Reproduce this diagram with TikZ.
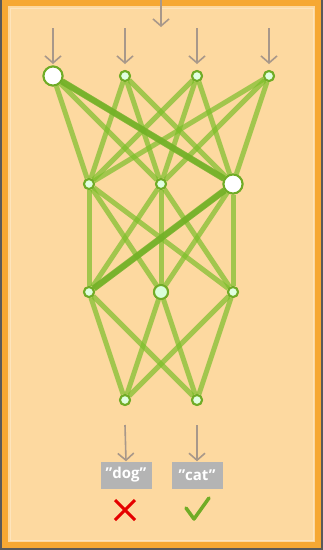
\documentclass[tikz,border=0pt]{standalone}
\usepackage{fontspec}
\setmainfont{Open Sans}
\usetikzlibrary{arrows.meta}
\definecolor{bg}{HTML}{FDD9A0}
\definecolor{frame}{HTML}{F6A833}
\definecolor{edge}{HTML}{7CBF2A}
\definecolor{arr}{HTML}{A8988A}
\definecolor{lab}{HTML}{B4B4B4}
\tikzset{
  neuron/.style={circle,draw=edge!90!black,line width=2pt,fill=white!70!green!40,inner sep=0pt,minimum size=10pt},
  bigneuron/.style={neuron,minimum size=19pt,fill=white},
  midneuron/.style={neuron,minimum size=14pt,fill=white!85!green},
  link/.style={draw=edge,line width=5pt,opacity=0.7},
  hot/.style={draw=edge!92!black,line width=6.5pt,opacity=0.85},
  inarrow/.style={draw=arr,line width=1.6pt,-{Straight Barb[length=7pt,width=16pt]}},
  labelbox/.style={fill=lab,text=white,font=\bfseries\fontsize{15}{15}\selectfont,inner xsep=3pt,minimum height=27pt,minimum width=51pt}
}
\begin{document}
\begin{tikzpicture}[x=1pt,y=-1pt]
\useasboundingbox (0,0) rectangle (323,550);
\fill[gray!70!black] (0,0) rectangle (323,550);
\fill[frame] (2,0) rectangle (321,548);
\fill[bg] (8,6) rectangle (315,542);
\draw[white,opacity=0.3,line width=0.8pt] (10,8) rectangle (313,540);
% nodes
\node[bigneuron] (a1) at (53,76) {};
\node[neuron] (a2) at (125,76) {};
\node[neuron] (a3) at (197,76) {};
\node[neuron] (a4) at (269,76) {};
\node[neuron] (b1) at (89,184) {};
\node[neuron] (b2) at (161,184) {};
\node[bigneuron] (b3) at (233,184) {};
\node[neuron] (c1) at (89,292) {};
\node[midneuron] (c2) at (161,292) {};
\node[neuron] (c3) at (233,292) {};
\node[neuron] (d1) at (125,400) {};
\node[neuron] (d2) at (197,400) {};
% edges
\foreach \s in {a1,a2,a3,a4}{\foreach \t in {b1,b2,b3}{\path[link] (\s) -- (\t);}}
\foreach \s in {b1,b2,b3}{\foreach \t in {c1,c2,c3}{\path[link] (\s) -- (\t);}}
\foreach \s in {c1,c2,c3}{\foreach \t in {d1,d2}{\path[link] (\s) -- (\t);}}
\path[hot] (a1) -- (b3);
\path[hot] (b3) -- (c1);
% redraw nodes on top
\node[bigneuron] at (a1) {};
\node[neuron] at (a2) {};
\node[neuron] at (a3) {};
\node[neuron] at (a4) {};
\node[neuron] at (b1) {};
\node[neuron] at (b2) {};
\node[bigneuron] at (b3) {};
\node[neuron] at (c1) {};
\node[midneuron] at (c2) {};
\node[neuron] at (c3) {};
\node[neuron] at (d1) {};
\node[neuron] at (d2) {};
% arrows
\coordinate (top) at (161,0);
\coordinate (topend) at (161,27);
\draw[inarrow] (top) -- (topend);
\foreach \n/\x in {a1/53,a2/125,a3/197,a4/269}{
  \coordinate (s\n) at (\x,28);
  \coordinate (e\n) at (\x,64);
  \draw[inarrow] (s\n) -- (e\n);
}
\node[labelbox] (dog) at (126,475) {''dog''};
\node[labelbox] (cat) at (197,475) {''cat''};
\coordinate (sd) at (125,425);
\coordinate (sc) at (197,425);
\draw[inarrow] (sd) -- (dog.north);
\draw[inarrow] (sc) -- (cat.north);
% marks
\coordinate (cross) at (125,510);
\coordinate (check) at (197,510);
\draw[red!90!black,line width=3pt] ([shift={(-10,-10)}]cross) -- ([shift={(10,10)}]cross)
  ([shift={(-10,10)}]cross) -- ([shift={(10,-10)}]cross);
\draw[edge!90!black,line width=3.5pt,line cap=round,line join=round] ([shift={(-11,-2)}]check) -- ([shift={(-3,9)}]check) -- ([shift={(12,-12)}]check);
\end{tikzpicture}
\end{document}
